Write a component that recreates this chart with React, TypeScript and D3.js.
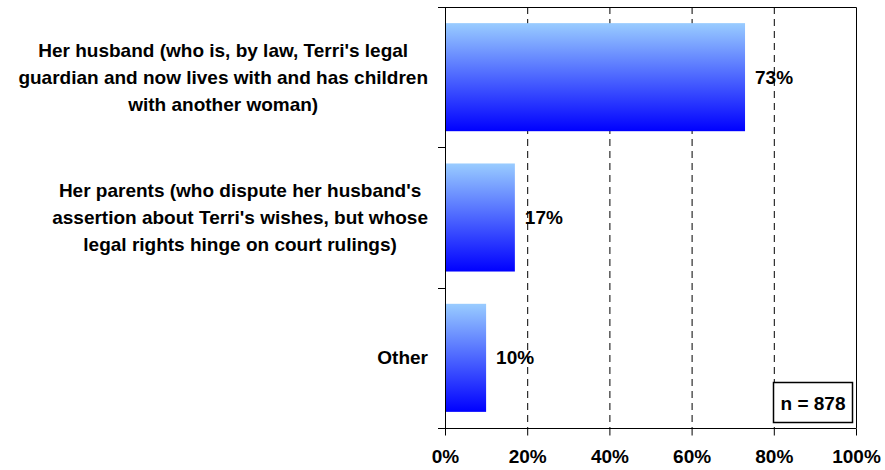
import * as d3 from 'd3';
import React, { useRef, useEffect } from 'react';

const categories = [
  ["Her husband (who is, by law, Terri's legal", 'guardian and now lives with and has children', 'with another woman)'],
  ["Her parents (who dispute her husband's", "assertion about Terri's wishes, but whose", 'legal rights hinge on court rulings)'],
  ['Other'],
];
const values = [73, 17, 10];
const ticks = [0, 20, 40, 60, 80, 100];
const sampleNote = 'n = 878';

const FONT = '"Liberation Sans", Arial, sans-serif';

function Chart({ width, height }) {
  const ref = useRef();

  useEffect(() => {
    draw();
  }, []);

  const draw = () => {
    const svg = d3.select(ref.current);
    svg.selectAll('*').remove();

    const left = 445;
    const right = 856;
    const top = 7;
    const bottom = 428;

    const x = d3.scaleLinear().domain([0, 100]).range([left, right]);
    const y = d3
      .scaleBand()
      .domain(values.map((d, i) => i))
      .range([top, bottom])
      .paddingInner(0.23)
      .paddingOuter(0.115);

    const defs = svg.append('defs');
    const grad = defs
      .append('linearGradient')
      .attr('id', 'barGrad')
      .attr('x1', 0)
      .attr('y1', 0)
      .attr('x2', 0)
      .attr('y2', 1);
    grad.append('stop').attr('offset', '0%').attr('stop-color', '#99ccff');
    grad.append('stop').attr('offset', '100%').attr('stop-color', '#0000ff');

    // dashed gridlines
    svg
      .selectAll('line.grid')
      .data([20, 40, 60, 80])
      .enter()
      .append('line')
      .attr('x1', d => x(d) + 0.5)
      .attr('x2', d => x(d) + 0.5)
      .attr('y1', top)
      .attr('y2', bottom)
      .attr('stroke', '#000')
      .attr('stroke-dasharray', '7,5');

    // plot frame top/right
    svg
      .append('path')
      .attr('d', `M${left},${top + 0.5}H${right + 0.5}V${bottom}`)
      .attr('fill', 'none')
      .attr('stroke', '#000');

    // bars
    svg
      .selectAll('rect.bar')
      .data(values)
      .enter()
      .append('rect')
      .attr('x', x(0))
      .attr('y', (d, i) => y(i))
      .attr('width', d => x(d) - x(0))
      .attr('height', y.bandwidth())
      .attr('fill', 'url(#barGrad)');

    // value labels
    svg
      .selectAll('text.val')
      .data(values)
      .enter()
      .append('text')
      .attr('x', d => x(d) + 10)
      .attr('y', (d, i) => y(i) + y.bandwidth() / 2)
      .attr('dy', '0.35em')
      .attr('font-family', FONT)
      .attr('font-weight', 'bold')
      .attr('font-size', 19)
      .text(d => d + '%');

    // x axis
    const xAxis = d3
      .axisBottom(x)
      .tickValues(ticks)
      .tickSize(7)
      .tickPadding(14)
      .tickFormat(d => d + '%');
    const gx = svg.append('g').attr('transform', `translate(0,${bottom + 0.5})`).call(xAxis);
    gx.select('.domain').attr('d', `M${left},0H${right + 0.5}`);
    gx.selectAll('text')
      .attr('font-family', FONT)
      .attr('font-weight', 'bold')
      .attr('font-size', 19)
      .attr('fill', '#000');

    // y axis with category separators
    svg
      .append('line')
      .attr('x1', left + 0.5)
      .attr('x2', left + 0.5)
      .attr('y1', top)
      .attr('y2', bottom + 7)
      .attr('stroke', '#000');
    const step = (bottom - top) / values.length;
    svg
      .selectAll('line.ytick')
      .data(d3.range(values.length + 1))
      .enter()
      .append('line')
      .attr('x1', left - 7)
      .attr('x2', left)
      .attr('y1', d => Math.round(top + d * step) + 0.5)
      .attr('y2', d => Math.round(top + d * step) + 0.5)
      .attr('stroke', '#000');

    // category labels, centered lines in a right aligned block
    const lineH = 27;
    categories.forEach((lines, i) => {
      const cy = y(i) + y.bandwidth() / 2;
      const t = svg
        .append('text')
        .attr('font-family', FONT)
        .attr('font-weight', 'bold')
        .attr('font-size', 19)
        .attr('text-anchor', 'middle');
      const spans = lines.map((l, j) =>
        t
          .append('tspan')
          .attr('y', cy + (j - (lines.length - 1) / 2) * lineH)
          .attr('dy', '0.35em')
          .text(l)
      );
      const maxW = d3.max(spans, s => s.node().getComputedTextLength());
      spans.forEach(s => s.attr('x', 428 - maxW / 2));
    });

    // sample size box
    svg
      .append('rect')
      .attr('x', 773.5)
      .attr('y', 382.5)
      .attr('width', 79)
      .attr('height', 40)
      .attr('fill', '#fff')
      .attr('stroke', '#000')
      .attr('stroke-width', 1.5);
    svg
      .append('text')
      .attr('x', 813)
      .attr('y', 403)
      .attr('dy', '0.35em')
      .attr('text-anchor', 'middle')
      .attr('font-family', FONT)
      .attr('font-weight', 'bold')
      .attr('font-size', 19)
      .text(sampleNote);
  };

  return (
    <svg
      ref={ref}
      width={width}
      height={height}
      style={{ position: 'absolute', left: 0, top: 0, background: '#fff' }}
    />
  );
}

export default function App() {
  return <Chart width={885} height={470} />;
}
